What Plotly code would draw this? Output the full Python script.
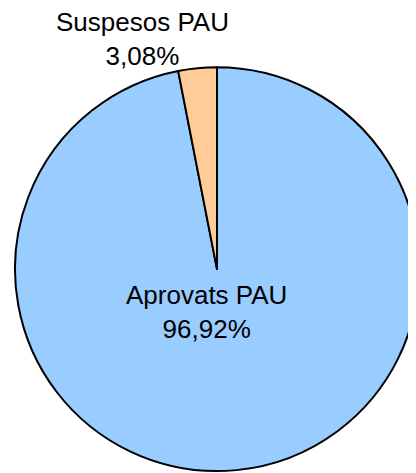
import plotly.graph_objects as go

labels = ["Aprovats PAU", "Suspesos PAU"]
values = [96.92, 3.08]
colors = ["#99CCFF", "#FFCC99"]

fig = go.Figure(go.Pie(
    labels=labels,
    values=values,
    sort=False,
    direction="clockwise",
    rotation=0,
    marker=dict(colors=colors, line=dict(color="black", width=2)),
    textinfo="none",
    hoverinfo="label+percent",
    showlegend=False,
    domain=dict(x=[0.0168, 0.988], y=[0.021, 0.875]),
))

def fmt(v):
    return ("%.2f" % v).replace(".", ",") + "%"

label_pos = [(0.478, 0.357), (0.323, 0.935)]
for lab, val, (px, py) in zip(labels, values, label_pos):
    fig.add_annotation(
        x=px, y=py, xref="paper", yref="paper",
        text=f"{lab}<br>{fmt(val)}",
        showarrow=False, xanchor="center", yanchor="middle",
        font=dict(family="Liberation Sans, Arial, sans-serif", size=26, color="black"),
    )

fig.update_layout(
    width=416, height=473,
    margin=dict(l=0, r=0, t=0, b=0),
    paper_bgcolor="white", plot_bgcolor="white",
)

fig.write_html("out.html")
